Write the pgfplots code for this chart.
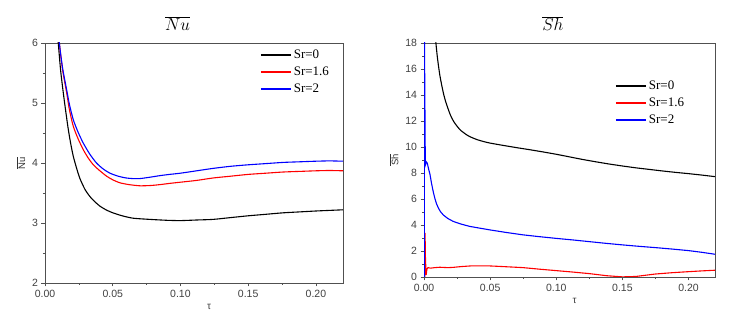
\documentclass[border=0pt]{standalone}
\usepackage{pgfplots}
\pgfplotsset{compat=1.18}
\usepackage{fontspec}
\setmainfont{Liberation Sans}
\newfontfamily\legfont{Liberation Serif}
\definecolor{axgray}{HTML}{505050}
\pgfplotsset{
  myax/.style={
    scale only axis,
    xmin=0, xmax=0.22,
    xtick={0,0.05,0.10,0.15,0.20},
    minor x tick num=1,
    minor y tick num=1,
    xtick pos=left, ytick pos=left,
    tick align=outside,
    major tick length=3.5pt, minor tick length=2pt,
    axis line style={axgray, line width=0.6pt},
    tick style={axgray, line width=0.6pt},
    tick label style={font=\fontsize{10.5}{12}\selectfont, text=black!75},
    /pgf/number format/assume math mode=true,
    xticklabel style={/pgf/number format/fixed, /pgf/number format/fixed zerofill, /pgf/number format/precision=2},
    xlabel={τ},
    xlabel style={font=\fontsize{10}{12}\selectfont, text=black!75},
    ylabel style={font=\fontsize{9.5}{11}\selectfont, text=black!80},
    title style={anchor=south, yshift=3pt, font=\fontsize{18}{20}\selectfont},
    every axis plot/.append style={line width=1.1pt},
    legend cell align=left,
    legend image code/.code={\draw[#1, line width=2pt] (0pt,0pt) -- (30pt,0pt);},
    legend style={draw=none, fill=none, font=\legfont\fontsize{13}{15}\selectfont, anchor=north west, row sep=3pt},
  }
}
\begin{document}
\begin{tikzpicture}
\begin{axis}[myax,
  width=298pt, height=240pt,
  ymin=2, ymax=6, ytick={2,3,4,5,6},
  ylabel={$\overline{\mbox{Nu}}$},
  xlabel style={xshift=15pt},
  title={$\overline{Nu}$},
  title style={at={(0.445,1)}},
  legend style={at={(rel axis cs:0.71,0.99)}},
]
\addplot[black, smooth, tension=0.4] coordinates {(0.0080,6.45) (0.0098,6.0) (0.0115,5.55) (0.0135,5.17) (0.0155,4.83) (0.0172,4.56) (0.0190,4.32) (0.0209,4.11) (0.0235,3.90) (0.0258,3.74) (0.0295,3.56) (0.0332,3.44) (0.0370,3.35) (0.0406,3.28) (0.045,3.22) (0.050,3.17) (0.057,3.12) (0.065,3.08) (0.0775,3.06) (0.090,3.045) (0.100,3.04) (0.112,3.05) (0.124,3.06) (0.137,3.09) (0.150,3.12) (0.163,3.145) (0.176,3.17) (0.188,3.185) (0.200,3.20) (0.210,3.21) (0.220,3.22)};
\addlegendentry{Sr=0}
\addplot[red, smooth, tension=0.4] coordinates {(0.0085,6.55) (0.0106,6.0) (0.013,5.55) (0.016,5.17) (0.018,4.89) (0.0209,4.61) (0.0245,4.40) (0.0283,4.22) (0.032,4.08) (0.0357,3.97) (0.040,3.88) (0.0455,3.78) (0.050,3.72) (0.0553,3.67) (0.062,3.64) (0.070,3.62) (0.078,3.625) (0.085,3.64) (0.092,3.66) (0.100,3.68) (0.112,3.71) (0.124,3.75) (0.137,3.78) (0.150,3.81) (0.163,3.83) (0.176,3.85) (0.188,3.86) (0.200,3.87) (0.210,3.875) (0.220,3.87)};
\addlegendentry{Sr=1.6}
\addplot[blue, smooth, tension=0.4] coordinates {(0.0085,6.6) (0.0106,6.0) (0.013,5.58) (0.016,5.22) (0.018,4.98) (0.0209,4.72) (0.0245,4.51) (0.0283,4.33) (0.033,4.15) (0.038,4.00) (0.043,3.90) (0.048,3.83) (0.054,3.78) (0.060,3.75) (0.065,3.74) (0.070,3.74) (0.078,3.765) (0.085,3.79) (0.092,3.81) (0.100,3.83) (0.112,3.87) (0.124,3.91) (0.137,3.945) (0.150,3.97) (0.163,3.99) (0.176,4.01) (0.188,4.02) (0.200,4.03) (0.210,4.035) (0.220,4.03)};
\addlegendentry{Sr=2}
\end{axis}
\begin{axis}[myax,
  at={(379pt,6pt)},
  width=291pt, height=234pt,
  ymin=0, ymax=18, ytick={0,2,4,6,8,10,12,14,16,18},
  ylabel={$\overline{\mbox{Sh}}$},
  xlabel style={xshift=5pt},
  title={$\overline{Sh}$},
  title style={at={(0.443,1)}},
  legend style={at={(rel axis cs:0.645,0.855)}},
]
\addplot[black, smooth, tension=0.4] coordinates {(0.0080,19.2) (0.009,18.0) (0.010,17.0) (0.011,16.2) (0.012,15.5) (0.0135,14.7) (0.015,14.0) (0.0165,13.45) (0.018,13.0) (0.020,12.45) (0.0225,11.95) (0.025,11.6) (0.0275,11.3) (0.030,11.1) (0.0325,10.92) (0.035,10.78) (0.040,10.57) (0.045,10.42) (0.050,10.3) (0.060,10.12) (0.070,9.95) (0.080,9.79) (0.090,9.62) (0.100,9.44) (0.110,9.24) (0.120,9.04) (0.130,8.86) (0.140,8.69) (0.150,8.54) (0.160,8.4) (0.170,8.28) (0.180,8.16) (0.190,8.05) (0.200,7.95) (0.210,7.84) (0.220,7.72)};
\addlegendentry{Sr=0}
\addplot[red] coordinates {(0.0004,0) (0.0006,0) (0.0008,3.4) (0.0011,1.45) (0.0016,0.15) (0.0022,0.6) (0.003,0.72) (0.005,0.68) (0.008,0.72) (0.012,0.75) (0.018,0.72) (0.022,0.74) (0.028,0.8) (0.035,0.85) (0.042,0.86) (0.050,0.85) (0.060,0.80) (0.075,0.72) (0.0875,0.6) (0.100,0.49) (0.1125,0.38) (0.125,0.26) (0.138,0.10) (0.150,0.01) (0.160,0.04) (0.175,0.23) (0.1875,0.33) (0.200,0.41) (0.210,0.47) (0.220,0.52)};
\addlegendentry{Sr=1.6}
\addplot[blue] coordinates {(0.0003,0) (0.0003,19) (0.0010,8.6) (0.0018,8.85) (0.0025,8.75) (0.0035,8.3) (0.0045,7.9) (0.0057,7.2) (0.0070,6.55) (0.0082,6.05) (0.0095,5.62) (0.011,5.28) (0.0125,5.02) (0.0146,4.77) (0.018,4.5) (0.022,4.28) (0.028,4.07) (0.0347,3.89) (0.042,3.76) (0.050,3.62) (0.0625,3.42) (0.075,3.24) (0.0875,3.1) (0.100,2.97) (0.1125,2.85) (0.125,2.72) (0.1375,2.59) (0.150,2.47) (0.1625,2.36) (0.175,2.26) (0.1875,2.15) (0.200,2.03) (0.210,1.9) (0.220,1.75)};
\addlegendentry{Sr=2}
\end{axis}
\pgfresetboundingbox
\path[use as bounding box] (-45pt,-40pt) rectangle (698pt,283pt);
\end{tikzpicture}
\end{document}
